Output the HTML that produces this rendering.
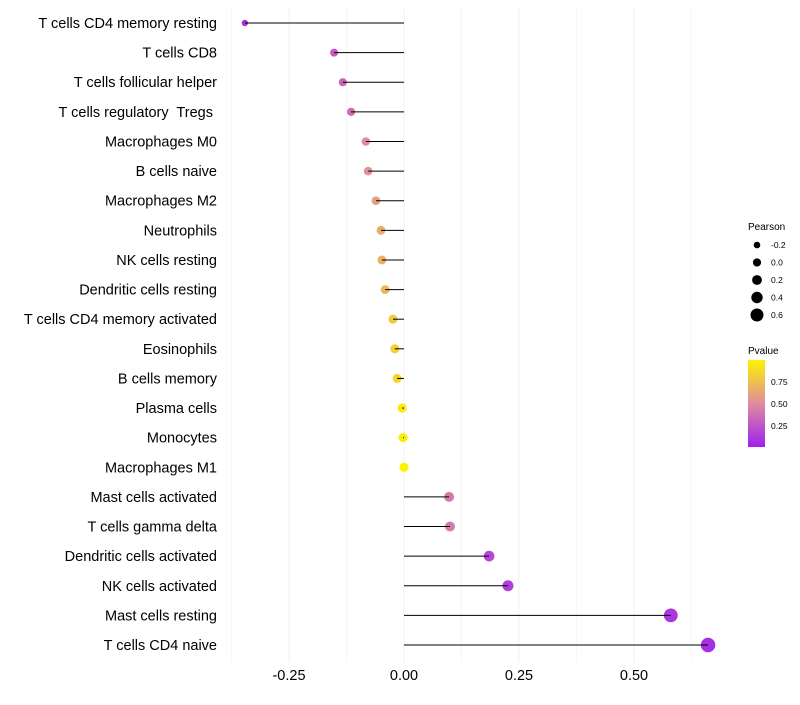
<!DOCTYPE html>
<html><head><meta charset="utf-8"><style>
body{margin:0;background:#fff;font-family:"Liberation Sans",sans-serif}
text{white-space:pre}
</style></head><body>
<svg id="chart" width="800" height="700" xmlns="http://www.w3.org/2000/svg">
<defs><linearGradient id="pg" x1="0" y1="1" x2="0" y2="0">
<stop offset="0" stop-color="#A020F0"/><stop offset="0.5" stop-color="#DE8C9E"/><stop offset="1" stop-color="#FFF200"/></linearGradient></defs>
<g id="grid"></g>
<g id="marks"></g>
<g id="stems"></g>
<g id="ylabels"></g>
<g id="xlabels"></g>
<g id="sizeleg">
<text x="748" y="230" font-size="10">Pearson</text></g>
<g>
<text x="748" y="354" font-size="10">Pvalue</text>
<rect x="748" y="360" width="17" height="87" fill="url(#pg)"/>
<text x="771" y="385" font-size="8.5">0.75</text>
<text x="771" y="407" font-size="8.5">0.50</text>
<text x="771" y="429" font-size="8.5">0.25</text>
</g>
</svg>
<script>
const cells=["T cells CD4 memory resting","T cells CD8","T cells follicular helper","T cells regulatory  Tregs ","Macrophages M0","B cells naive","Macrophages M2","Neutrophils","NK cells resting","Dendritic cells resting","T cells CD4 memory activated","Eosinophils","B cells memory","Plasma cells","Monocytes","Macrophages M1","Mast cells activated","T cells gamma delta","Dendritic cells activated","NK cells activated","Mast cells resting","T cells CD4 naive"];
const pearson=[-0.346,-0.152,-0.133,-0.115,-0.083,-0.078,-0.061,-0.050,-0.048,-0.041,-0.024,-0.020,-0.015,-0.004,-0.002,0.000,0.098,0.100,0.185,0.226,0.580,0.661];
const pvalue=[0.08,0.28,0.32,0.36,0.5,0.52,0.6,0.66,0.68,0.72,0.8,0.83,0.86,0.96,0.97,1.0,0.42,0.42,0.18,0.14,0.1,0.06];
const xticks=[-0.25,0,0.25,0.5];
const xtickLabels=["-0.25","0.00","0.25","0.50"];
const legendVals=[-0.2,0,0.2,0.4,0.6];
const NS="http://www.w3.org/2000/svg";
const X=v=>404+v*460;
const Y=i=>23+i*(622/21);
const R=v=>Math.max(1.6,4.6+v*4);
function lerp(a,b,t){return a.map((x,i)=>Math.round(x+(b[i]-x)*t));}
function col(p){const c0=[160,32,240],c1=[222,140,158],c2=[255,242,0];
 const c=p<0.5?lerp(c0,c1,p/0.5):lerp(c1,c2,(p-0.5)/0.5);return `rgb(${c})`;}
function mk(tag,at,par){const e=document.createElementNS(NS,tag);for(const k in at)e.setAttribute(k,at[k]);par.appendChild(e);return e;}
const grid=document.getElementById('grid');
for(let v=-0.375;v<=0.63;v+=0.125){
 const l=mk('line',{x1:X(v),x2:X(v),y1:8,y2:662,stroke:Math.abs((v/0.25)%1)<1e-6?'#f0f0f0':'#f6f6f6','stroke-width':1},grid);
 
 
}
const marks=document.getElementById('marks'),stems=document.getElementById('stems'),yl=document.getElementById('ylabels'),xl=document.getElementById('xlabels');
cells.forEach((c,i)=>{
 const p=mk('circle',{cx:X(pearson[i]),cy:Y(i),r:R(pearson[i]),fill:col(pvalue[i])},marks);
 
 
 const l=mk('line',{x1:X(0),x2:X(pearson[i]),y1:Y(i),y2:Y(i),stroke:'#000','stroke-width':1},stems);
 
 
 const t=mk('text',{x:217,y:Y(i)+5,'text-anchor':'end','font-size':14.5,fill:'#000'},yl);
 t.textContent=c;
 
 
});
xticks.forEach((v,i)=>{
 const t=mk('text',{x:X(v),y:680,'text-anchor':'middle','font-size':14.5},xl);
 t.textContent=xtickLabels[i];
 
 
});
const sl=document.getElementById('sizeleg');
legendVals.forEach((v,i)=>{
 const y=245+i*17.5;
 const c=mk('circle',{cx:757,cy:y,r:R(v)-0.5,fill:'#000'},sl);
 
 
 const t=mk('text',{x:771,y:y+3,'font-size':8.5},sl);
 t.textContent=v.toFixed(1);
 
 
});
</script>
</body></html>
